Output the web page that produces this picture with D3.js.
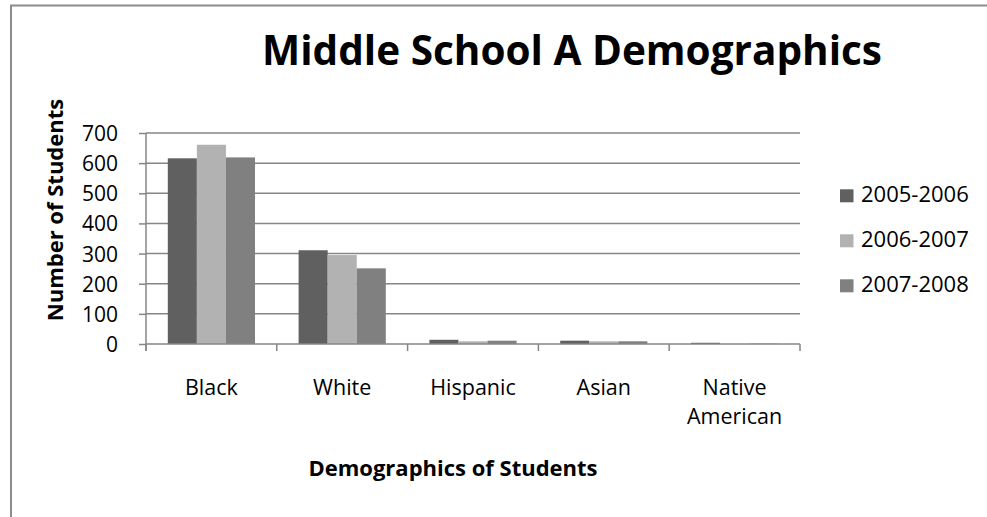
<!DOCTYPE html>
<html><head><meta charset="utf-8">
<script src="https://cdn.jsdelivr.net/npm/d3@7"></script>
<style>body{margin:0;background:#fff}svg{display:block;font-family:"Open Sans",sans-serif}</style>
</head><body><svg id="c" width="987" height="517"></svg>
<script>
const categories = ["Black","White","Hispanic","Asian","Native American"];
const seriesNames = ["2005-2006","2006-2007","2007-2008"];
const s2005 = [616, 311, 14, 11, 4];
const s2006 = [661, 295, 9, 9, 0];
const s2007 = [619, 251, 11, 9, 1];
const yTicks = [0,100,200,300,400,500,600,700];
const colors = ["#606060","#b2b2b2","#808080"];

const series = [s2005, s2006, s2007];
const svg = d3.select("#c");
const L = 146, R = 800, T = 133, B = 344;

// frame
svg.append("path").attr("d","M11,517 V5.5 H987").attr("fill","none").attr("stroke","#8c8c8c").attr("stroke-width",2);

const x = d3.scaleBand().domain(categories).range([L,R]).paddingInner(0).paddingOuter(0);
const y = d3.scaleLinear().domain([0,700]).range([B,T]);
const inner = d3.scaleBand().domain(d3.range(3)).range([0,x.bandwidth()]).paddingInner(0).paddingOuter(0.75);

// gridlines
svg.append("g").selectAll("line").data(yTicks.filter(d=>d>0)).join("line")
  .attr("x1",L).attr("x2",R).attr("y1",d=>y(d)).attr("y2",d=>y(d))
  .attr("stroke","#868686").attr("stroke-width",1.5);

// bars
const g = svg.append("g");
series.forEach((s,i)=>{
  g.selectAll(null).data(categories).join("rect")
   .attr("x",c=>x(c)+inner(i)).attr("width",inner.bandwidth())
   .attr("y",(c,j)=>y(s[j])).attr("height",(c,j)=>B-y(s[j]))
   .attr("fill",colors[i]);
});

// y axis
const ya = svg.append("g").attr("transform",`translate(${L},0)`)
  .call(d3.axisLeft(y).tickValues(yTicks).tickSize(7).tickPadding(21));
ya.select(".domain").attr("stroke","#868686").attr("stroke-width",1.5).attr("d",`M0,${B+7}V${T}`);
ya.selectAll(".tick line").attr("stroke","#868686").attr("stroke-width",1.5);
ya.selectAll(".tick text").attr("font-size",21).attr("fill","#000").attr("font-family","Open Sans").attr("dy","0.36em");

// x axis
const xa = svg.append("g").attr("transform",`translate(0,${B})`);
xa.append("line").attr("x1",L).attr("x2",R).attr("y1",0).attr("y2",0).attr("stroke","#868686").attr("stroke-width",1.5);
xa.selectAll("line.t").data(d3.range(categories.length+1)).join("line").attr("class","t")
  .attr("x1",i=>L+i*x.step()).attr("x2",i=>L+i*x.step()).attr("y1",0).attr("y2",7)
  .attr("stroke","#868686").attr("stroke-width",1.5);
xa.selectAll("text").data(categories).join("text")
  .attr("text-anchor","middle").attr("font-size",21.5).attr("fill","#000")
  .each(function(c){
    const words = c.split(" ");
    const t = d3.select(this);
    words.forEach((w,k)=>t.append("tspan").attr("x",x(c)+x.bandwidth()/2).attr("y",50.5+k*29).text(w));
  });

// titles
svg.append("text").attr("x",572).attr("y",64.5).attr("text-anchor","middle")
  .attr("font-size",40.5).attr("font-weight","bold").text("Middle School A Demographics");
svg.append("text").attr("x",453).attr("y",476).attr("text-anchor","middle")
  .attr("font-size",22).attr("font-weight","bold").text("Demographics of Students");
svg.append("text").attr("transform","translate(63,210) rotate(-90)").attr("text-anchor","middle")
  .attr("font-size",22).attr("font-weight","bold").text("Number of Students");

// legend
const lg = svg.append("g");
seriesNames.forEach((n,i)=>{
  const base = 202.3 + i*45;
  lg.append("rect").attr("x",840).attr("y",base-13).attr("width",13.5).attr("height",13).attr("fill",colors[i]);
  lg.append("text").attr("x",861).attr("y",base).attr("font-size",22).text(n);
});
</script></body></html>
